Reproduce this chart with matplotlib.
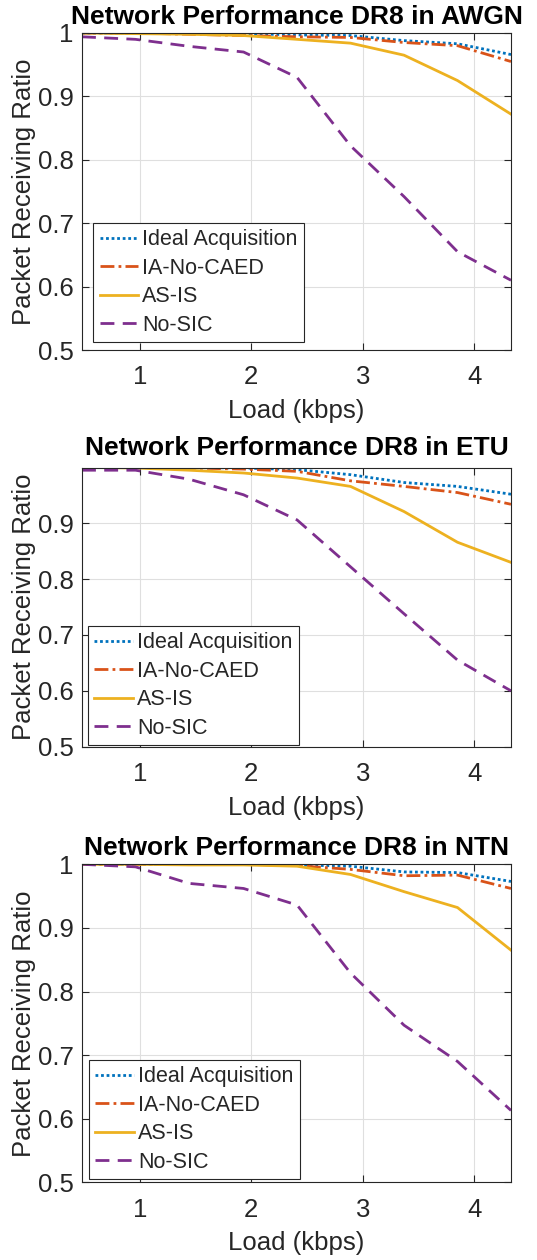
import numpy as np
import matplotlib
matplotlib.use("Agg")
import matplotlib.pyplot as plt

plt.rcParams['font.family'] = ['Liberation Sans', 'DejaVu Sans']

# load points (kbps)
load = [0.48, 0.96, 1.44, 1.93, 2.41, 2.89, 3.37, 3.85, 4.33]

labels = ['Ideal Acquisition', 'IA-No-CAED', 'AS-IS', 'No-SIC']
titles = ['Network Performance DR8 in AWGN',
          'Network Performance DR8 in ETU',
          'Network Performance DR8 in NTN']

# AWGN
awgn_ideal = [1.0, 1.0, 1.0, 0.999, 0.997, 0.996, 0.988, 0.983, 0.966]
awgn_nocaed = [1.0, 1.0, 0.998, 0.996, 0.994, 0.993, 0.985, 0.980, 0.955]
awgn_asis = [1.0, 0.999, 0.998, 0.996, 0.990, 0.984, 0.965, 0.925, 0.872]
awgn_nosic = [0.994, 0.990, 0.979, 0.970, 0.930, 0.822, 0.742, 0.655, 0.610]

# ETU
etu_ideal = [1.0, 1.0, 1.0, 0.999, 0.996, 0.987, 0.973, 0.966, 0.952]
etu_nocaed = [1.0, 1.0, 0.999, 0.997, 0.993, 0.976, 0.966, 0.955, 0.934]
etu_asis = [1.0, 0.999, 0.995, 0.990, 0.981, 0.966, 0.921, 0.866, 0.830]
etu_nosic = [0.995, 0.995, 0.979, 0.951, 0.906, 0.822, 0.738, 0.655, 0.600]

# NTN
ntn_ideal = [1.0, 1.0, 1.0, 1.0, 0.999, 0.997, 0.988, 0.987, 0.973]
ntn_nocaed = [1.0, 1.0, 1.0, 1.0, 0.998, 0.992, 0.982, 0.983, 0.962]
ntn_asis = [1.0, 1.0, 0.999, 0.999, 0.997, 0.984, 0.957, 0.932, 0.865]
ntn_nosic = [1.0, 0.996, 0.970, 0.962, 0.936, 0.829, 0.747, 0.690, 0.613]

data = [
    [awgn_ideal, awgn_nocaed, awgn_asis, awgn_nosic],
    [etu_ideal, etu_nocaed, etu_asis, etu_nosic],
    [ntn_ideal, ntn_nocaed, ntn_asis, ntn_nosic],
]

colors = ['#0072BD', '#D95319', '#EDB120', '#7E2F8E']
styles = [(0, (1, 1)), (0, (5, 1.5, 1, 1.5)), '-', (0, (5, 3))]

W, H = 537, 1260
fig = plt.figure(figsize=(W / 100, H / 100), dpi=100)

# axes boxes in pixels: (left, top, right, bottom)
boxes = [(82, 33, 511, 350), (82, 467.7, 511, 746.7), (82, 864.3, 511, 1182.3)]
ytops = [1.0, 0.9995, 1.0]
legpos = [(0.026, 0.401), (0.014, 0.433), (0.016, 0.385)]
tpad = [6.5, 9, 6.5]

gray = '#262626'
for i in range(3):
    l, t, r, b = boxes[i]
    ax = fig.add_axes([l / W, 1 - b / H, (r - l) / W, (b - t) / H])
    for j in range(4):
        ax.plot(load, data[i][j], color=colors[j], linestyle=styles[j],
                linewidth=2, label=labels[j])
    ax.set_xlim(0.48, 4.33)
    ax.set_ylim(0.5, ytops[i])
    ax.set_xticks([1, 2, 3, 4])
    if i == 1:
        ax.set_yticks([0.5, 0.6, 0.7, 0.8, 0.9])
    else:
        ax.set_yticks([0.5, 0.6, 0.7, 0.8, 0.9, 1.0])
    ax.set_yticklabels([f'{v:g}' for v in ax.get_yticks()])
    ax.grid(True, color='#dfdfdf', linewidth=0.8)
    ax.set_axisbelow(True)
    ax.tick_params(direction='in', top=True, right=True, labelsize=18.5,
                   colors=gray, length=5, width=0.8)
    ax.tick_params(axis='x', pad=11)
    ax.tick_params(axis='y', pad=6)
    for s in ax.spines.values():
        s.set_color(gray)
        s.set_linewidth(0.8)
    ax.set_xlabel('Load (kbps)', fontsize=18.5, color=gray, labelpad=7)
    ax.set_ylabel('Packet Receiving Ratio', fontsize=18.5, color=gray, labelpad=1)
    ax.set_title(titles[i], fontsize=19, fontweight='bold', pad=tpad[i])
    leg = ax.legend(loc='upper left', bbox_to_anchor=legpos[i], borderaxespad=0,
                    fontsize=15.5, fancybox=False, edgecolor=gray, framealpha=1,
                    handlelength=1.8, handletextpad=0.18, labelspacing=0.35,
                    borderpad=0.3)
    leg.get_frame().set_linewidth(0.8)
    for txt in leg.get_texts():
        txt.set_color(gray)

fig.savefig('out.png', dpi=100)
